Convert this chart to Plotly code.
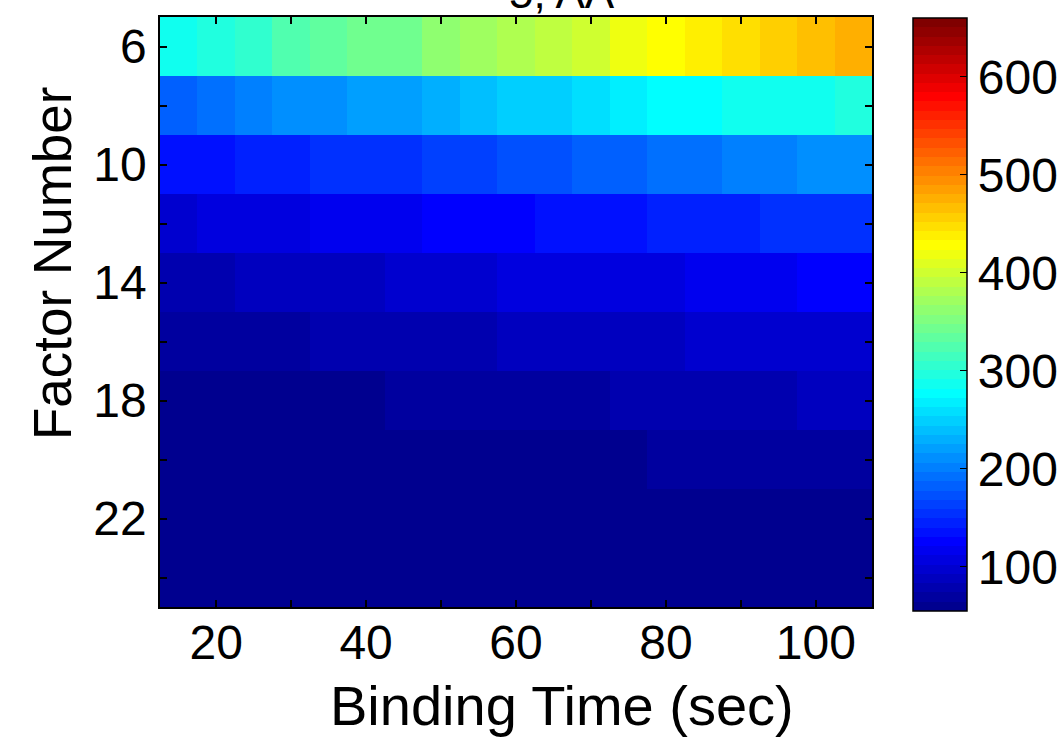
import plotly.graph_objects as go

# Binding time (sec) columns and factor number rows
binding_time = [15, 20, 25, 30, 35, 40, 45, 50, 55, 60, 65, 70, 75, 80, 85, 90, 95, 100, 105]
factor_number = [6, 8, 10, 12, 14, 16, 18, 20, 22, 24]

row_6 = [287, 296, 305, 324, 334, 343, 343, 362, 372, 381, 391, 400, 419, 428, 438, 447, 457, 466, 476]
row_8 = [183, 192, 202, 211, 211, 220, 220, 230, 239, 249, 249, 258, 268, 277, 277, 287, 287, 287, 296]
row_10 = [135, 135, 145, 145, 154, 154, 154, 164, 164, 173, 173, 183, 183, 192, 192, 202, 202, 211, 211]
row_12 = [98, 107, 107, 107, 116, 116, 116, 126, 126, 126, 135, 135, 135, 145, 145, 145, 154, 154, 154]
row_14 = [79, 79, 88, 88, 88, 88, 98, 98, 98, 107, 107, 107, 107, 107, 116, 116, 116, 126, 126]
row_16 = [69, 69, 69, 69, 79, 79, 79, 79, 79, 88, 88, 88, 88, 88, 98, 98, 98, 98, 98]
row_18 = [60, 60, 60, 60, 60, 60, 69, 69, 69, 69, 69, 69, 79, 79, 79, 79, 79, 88, 88]
row_20 = [60, 60, 60, 60, 60, 60, 60, 60, 60, 60, 60, 60, 60, 69, 69, 69, 69, 69, 69]
row_22 = [59, 59, 59, 59, 59, 59, 59, 59, 59, 59, 59, 59, 59, 59, 59, 59, 59, 59, 59]
row_24 = [58, 58, 58, 58, 58, 58, 58, 58, 58, 58, 58, 58, 58, 58, 58, 58, 58, 58, 58]

z_rows = [row_6, row_8, row_10, row_12, row_14, row_16, row_18, row_20, row_22, row_24]

x_ticks = [20, 30, 40, 50, 60, 70, 80, 90, 100]
x_ticktext = ["20", "", "40", "", "60", "", "80", "", "100"]
y_ticks = [6, 8, 10, 12, 14, 16, 18, 20, 22, 24]
y_ticktext = ["6", "", "10", "", "14", "", "18", "", "22", ""]
cbar_ticks = [100, 200, 300, 400, 500, 600]
z_min, z_max = 55, 660
title_text = "5, AA"
x_title = "Binding Time (sec)"
y_title = "Factor Number"


# MATLAB-style jet(64) discrete colormap
def jet64():
    cols = []
    for k in range(1, 65):
        if k <= 8:
            r, g, b = 0, 0, 0.5 + 0.0625 * k
        elif k <= 24:
            r, g, b = 0, (k - 8) * 0.0625, 1
        elif k <= 40:
            r, g, b = (k - 24) * 0.0625, 1, 1 - (k - 24) * 0.0625
        elif k <= 56:
            r, g, b = 1, 1 - (k - 40) * 0.0625, 0
        else:
            r, g, b = 1 - (k - 56) * 0.0625, 0, 0
        cols.append("rgb(%d,%d,%d)" % (round(r * 255), round(g * 255), round(b * 255)))
    scale = []
    for i, c in enumerate(cols):
        scale.append([i / 64, c])
        scale.append([(i + 1) / 64, c])
    return scale


FONT = "Liberation Sans, Arial, Helvetica, sans-serif"
L, R, T, B = 160, 872, 17, 607
PW, PH = R - L, B - T

fig = go.Figure()
fig.add_trace(go.Heatmap(
    x=binding_time, y=factor_number, z=z_rows,
    zmin=z_min, zmax=z_max, colorscale=jet64(),
    xgap=0, ygap=0,
    colorbar=dict(
        x=(913 - L) / PW, xanchor="left", xref="paper",
        y=(B - 314.5) / PH, yanchor="middle",
        lenmode="pixels", len=593, thicknessmode="pixels", thickness=54,
        outlinewidth=1.5, outlinecolor="black",
        tickvals=cbar_ticks, ticks="inside", ticklen=7, tickcolor="black",
        tickfont=dict(family=FONT, size=48, color="black"),
        ypad=0, xpad=0,
    ),
))

fig.update_layout(
    width=1064, height=740,
    margin=dict(l=L, r=1064 - R, t=T, b=740 - B, autoexpand=False),
    paper_bgcolor="white", plot_bgcolor="white",
    font=dict(family=FONT, color="black"),
)
fig.update_xaxes(
    range=[12.5, 107.5], tickvals=x_ticks, ticktext=x_ticktext,
    ticks="inside", ticklen=7, tickwidth=1.5, tickcolor="black",
    showline=True, linecolor="black", linewidth=1.5, mirror="ticks",
    showgrid=False, zeroline=False, automargin=False,
    tickfont=dict(family=FONT, size=48, color="black"),
    ticklabelstandoff=-7,
)
fig.update_yaxes(
    range=[25, 5], tickvals=y_ticks, ticktext=y_ticktext,
    ticks="inside", ticklen=7, tickwidth=1.5, tickcolor="black",
    showline=True, linecolor="black", linewidth=1.5, mirror="ticks",
    showgrid=False, zeroline=False, automargin=False,
    tickfont=dict(family=FONT, size=48, color="black"),
    ticklabelstandoff=2,
)
# axis titles
fig.add_annotation(
    text=x_title, xref="paper", yref="paper", x=(562 - L) / PW, y=-(705 - B) / PH,
    xanchor="center", yanchor="middle", showarrow=False,
    font=dict(family=FONT, size=56, color="black"),
)
fig.add_annotation(
    text=y_title, xref="paper", yref="paper", x=-(L - 52) / PW, y=(B - 264) / PH,
    xanchor="center", yanchor="middle", textangle=-90, showarrow=False,
    font=dict(family=FONT, size=53, color="black"),
)
# panel title (cut off at the top edge, as in the original)
fig.add_annotation(
    text=title_text, xref="paper", yref="paper", x=(562 - L) / PW, y=1,
    xanchor="center", yanchor="bottom", yshift=-2, showarrow=False,
    font=dict(family=FONT, size=44, color="black"),
)

fig.write_html("out.html")
